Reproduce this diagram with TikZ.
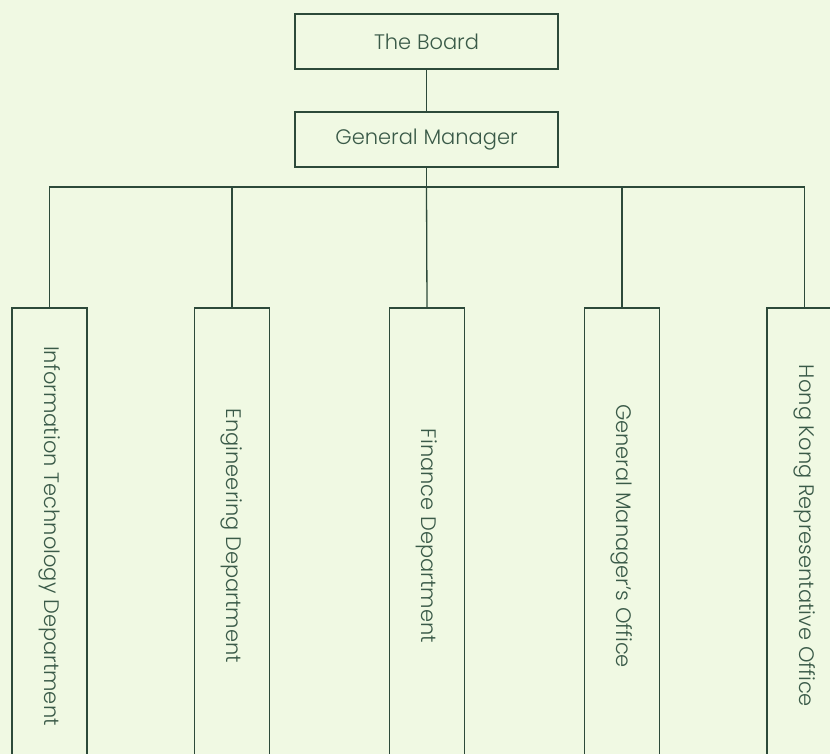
\documentclass[tikz,border=0pt]{standalone}
\usepackage{fontspec}
\setmainfont{Poppins}[UprightFont={* Light}]
\definecolor{bgcol}{HTML}{F0F9E3}
\definecolor{linecol}{HTML}{2D4A3A}
\definecolor{textcol}{HTML}{3A5A48}
\tikzset{
  topbox/.style={draw=linecol, line width=1.3pt, minimum width=263pt, minimum height=55pt,
    inner sep=0pt, text=textcol, font=\fontsize{21}{24}\selectfont},
  deptbox/.style={draw=linecol, line width=1.3pt, rotate=-90, minimum width=456pt,
    minimum height=75pt, inner sep=0pt, text=textcol, font=\fontsize{21}{24}\selectfont},
  conn/.style={draw=linecol, line width=1.3pt}
}
\begin{document}
\begin{tikzpicture}[x=1pt,y=-1pt]
\useasboundingbox (0,0) rectangle (830,754);
\clip (0,0) rectangle (830,754);
\fill[bgcol] (0,0) rectangle (830,754);
\node[topbox] (board) at (426.5,41.5) {The Board};
\node[topbox] (gm) at (426.5,139.5) {General Manager};
\coordinate (bus) at (426.5,187);
\node[deptbox] (it) at (49.5,536) {Information Technology Department};
\node[deptbox] (eng) at (232,536) {Engineering Department};
\node[deptbox] (fin) at (427,536) {Finance Department};
\node[deptbox] (gmo) at (622,536) {General Manager’s Office};
\node[deptbox] (hk) at (804.5,536) {Hong Kong Representative Office};
\draw[conn] (board) -- (gm);
\draw[conn] (gm) -- (bus);
\draw[conn] (bus) -| (it.west);
\draw[conn] (bus) -| (eng.west);
\draw[conn] (bus) -- (fin.west);
\draw[conn] (bus) -| (gmo.west);
\draw[conn] (bus) -| (hk.west);
\end{tikzpicture}
\end{document}
